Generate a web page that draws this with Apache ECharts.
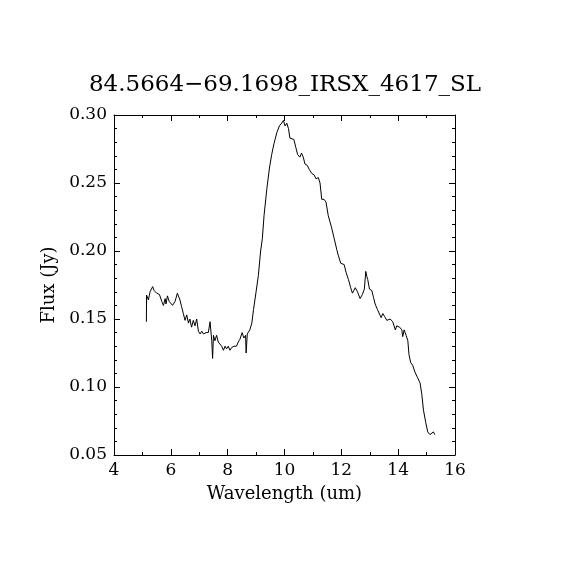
<!DOCTYPE html>
<html>
<head>
<meta charset="utf-8">
<script src="https://cdn.jsdelivr.net/npm/echarts@6/dist/echarts.min.js"></script>
<style>
  html, body { margin: 0; padding: 0; background: #fff; }
  #main { width: 570px; height: 570px; }
</style>
</head>
<body>
<div id="main"></div>
<script>
// spectrum: wavelength (um) and flux (Jy)
const wavelength = [
  5.14, 5.145, 5.21, 5.27, 5.36, 5.41, 5.50, 5.60, 5.68, 5.74, 5.80, 5.83, 5.88, 5.94, 5.99,
  6.06, 6.15, 6.23, 6.32, 6.38, 6.44, 6.50, 6.56, 6.62, 6.67, 6.73, 6.79, 6.85, 6.91, 6.97,
  7.03, 7.09, 7.15, 7.24, 7.32, 7.38, 7.44, 7.47, 7.50, 7.55, 7.61, 7.67, 7.73, 7.79, 7.85,
  7.91, 7.96, 8.02, 8.08, 8.14, 8.22, 8.31, 8.37, 8.43, 8.51, 8.57, 8.63, 8.65, 8.69, 8.78,
  8.85, 8.91, 9.00, 9.08, 9.16, 9.22, 9.28, 9.38, 9.47, 9.55, 9.63, 9.73, 9.82, 9.90, 9.96,
  10.02, 10.08, 10.14, 10.19, 10.25, 10.33, 10.40, 10.46, 10.54, 10.60, 10.66, 10.72, 10.80, 10.87, 10.96,
  11.04, 11.11, 11.19, 11.25, 11.31, 11.39, 11.46, 11.54, 11.66, 11.75, 11.84, 11.89, 11.98, 12.10, 12.17,
  12.25, 12.33, 12.39, 12.49, 12.57, 12.66, 12.74, 12.81, 12.86, 12.90, 12.93, 12.99, 13.07, 13.13, 13.19,
  13.27, 13.34, 13.40, 13.46, 13.52, 13.60, 13.72, 13.81, 13.90, 13.95, 14.05, 14.13, 14.16, 14.21, 14.28,
  14.34, 14.38, 14.44, 14.51, 14.59, 14.68, 14.77, 14.83, 14.89, 14.97, 15.04, 15.12, 15.18, 15.24, 15.29
];
const flux = [
  0.148, 0.1676, 0.164, 0.170, 0.1738, 0.171, 0.169, 0.168, 0.163, 0.160, 0.165, 0.161, 0.167, 0.163, 0.164,
  0.160, 0.163, 0.169, 0.164, 0.159, 0.154, 0.149, 0.153, 0.147, 0.150, 0.144, 0.149, 0.145, 0.150, 0.141,
  0.139, 0.141, 0.139, 0.140, 0.140, 0.148, 0.134, 0.121, 0.138, 0.134, 0.138, 0.133, 0.134, 0.130, 0.127,
  0.130, 0.128, 0.130, 0.127, 0.129, 0.130, 0.130, 0.133, 0.135, 0.140, 0.136, 0.138, 0.125, 0.139, 0.142,
  0.147, 0.157, 0.170, 0.182, 0.200, 0.209, 0.226, 0.246, 0.261, 0.271, 0.279, 0.287, 0.292, 0.294, 0.296,
  0.292, 0.294, 0.290, 0.283, 0.284, 0.282, 0.276, 0.271, 0.269, 0.272, 0.269, 0.264, 0.263, 0.260, 0.257,
  0.256, 0.253, 0.254, 0.250, 0.238, 0.238, 0.236, 0.226, 0.217, 0.209, 0.201, 0.197, 0.191, 0.190, 0.184,
  0.179, 0.173, 0.169, 0.173, 0.170, 0.165, 0.168, 0.172, 0.185, 0.181, 0.179, 0.172, 0.171, 0.166, 0.161,
  0.157, 0.156, 0.151, 0.154, 0.152, 0.149, 0.150, 0.148, 0.142, 0.145, 0.144, 0.142, 0.137, 0.142, 0.138,
  0.134, 0.124, 0.118, 0.116, 0.111, 0.107, 0.103, 0.095, 0.083, 0.074, 0.067, 0.065, 0.065, 0.067, 0.065
];

const font = 'DejaVu Serif';
const ink = '#000';

const chart = echarts.init(document.getElementById('main'), null, { renderer: 'canvas' });

function xAx(pos, showLabels) {
  return {
    type: 'value', position: pos, min: 4, max: 16, interval: 2,
    name: showLabels ? 'Wavelength (um)' : '', nameLocation: 'middle', nameGap: 30,
    nameTextStyle: { fontFamily: font, fontSize: 18, color: ink },
    axisLine: { show: true, onZero: false, lineStyle: { color: ink, width: 1 } },
    axisTick: { show: true, inside: true, length: 6, lineStyle: { color: ink } },
    minorTick: { show: true, splitNumber: 2, length: 3, lineStyle: { color: ink } },
    axisLabel: { show: showLabels, fontFamily: font, fontSize: 17, color: ink, margin: 7 },
    splitLine: { show: false }
  };
}
function yAx(pos, showLabels) {
  return {
    type: 'value', position: pos, min: 0.05, max: 0.30, interval: 0.05,
    name: showLabels ? 'Flux (Jy)' : '', nameLocation: 'middle', nameGap: 52,
    nameTextStyle: { fontFamily: font, fontSize: 18, color: ink },
    axisLine: { show: true, onZero: false, lineStyle: { color: ink, width: 1 } },
    axisTick: { show: true, inside: true, length: 6, lineStyle: { color: ink } },
    minorTick: { show: true, splitNumber: 5, length: 3, lineStyle: { color: ink } },
    axisLabel: {
      show: showLabels, fontFamily: font, fontSize: 17, color: ink, margin: 7,
      formatter: v => v.toFixed(2)
    },
    splitLine: { show: false }
  };
}

chart.setOption({
  backgroundColor: '#fff',
  animation: false,
  title: {
    text: '84.5664\u221269.1698_IRSX_4617_SL',
    left: 'center', top: 69,
    textStyle: { fontFamily: font, fontSize: 23, fontWeight: 'normal', color: ink }
  },
  grid: { left: 114, right: 115, top: 115, bottom: 115 },
  xAxis: [xAx('bottom', true), xAx('top', false)],
  yAxis: [yAx('left', true), yAx('right', false)],
  series: [{
    type: 'line',
    data: wavelength.map((w, i) => [w, flux[i]]),
    showSymbol: false,
    lineStyle: { color: ink, width: 1 },
    silent: true
  }]
});
</script>
</body>
</html>
